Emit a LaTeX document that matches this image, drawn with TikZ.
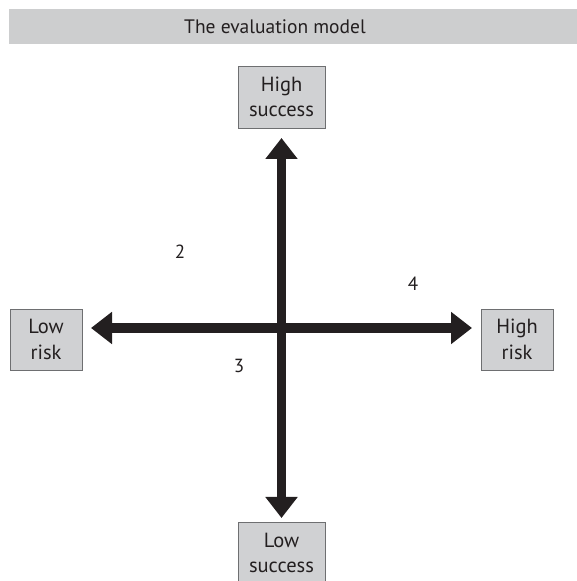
\documentclass[tikz,border=0pt]{standalone}
\usepackage{fontspec}
\setmainfont{PT Sans}
\usetikzlibrary{arrows.meta}
\definecolor{boxgray}{HTML}{D0D1D3}
\definecolor{bargray}{HTML}{CDCECF}
\definecolor{edgegray}{HTML}{6E6F71}
\definecolor{ink}{HTML}{231F20}
\tikzset{
  x=1pt, y=1pt,
  pole/.style={draw=edgegray, line width=0.9pt, fill=boxgray, align=center,
    inner sep=0pt, font=\fontsize{20.5}{25.5}\selectfont, text=ink},
  axis/.style={draw=ink, line width=9.5pt,
    {Triangle[width=31pt,length=21pt]}-{Triangle[width=31pt,length=21pt]}},
  quad/.style={font=\fontsize{19}{23}\selectfont, text=ink}
}
\begin{document}
\begin{tikzpicture}
\useasboundingbox (0,0) rectangle (577,581);
% title bar
\fill[bargray] (9,537) rectangle (577,572);
\node[font=\fontsize{19.5}{24}\selectfont, text=ink] (title) at (275,554.5) {The evaluation model};
% the four poles
\node[pole, minimum width=87pt, minimum height=62pt] (hs) at (281.5,484) {High\\success};
\node[pole, minimum width=87pt, minimum height=62pt] (ls) at (281.5,28) {Low\\success};
\node[pole, minimum width=72pt, minimum height=61pt] (lr) at (46,241.5) {Low\\risk};
\node[pole, minimum width=72pt, minimum height=61pt] (hr) at (517,241.5) {High\\risk};
% axis end points
\coordinate (top) at (281.5,443);
\coordinate (bottom) at (281.5,63);
\coordinate (left) at (91,253);
\coordinate (right) at (472,253);
\draw[axis] (top) -- (bottom);
\draw[axis] (left) -- (right);
% quadrant numbers
\node[quad] (q2) at (180,329) {2};
\node[quad] (q4) at (413,297) {4};
\node[quad] (q3) at (239,215) {3};
\end{tikzpicture}
\end{document}
